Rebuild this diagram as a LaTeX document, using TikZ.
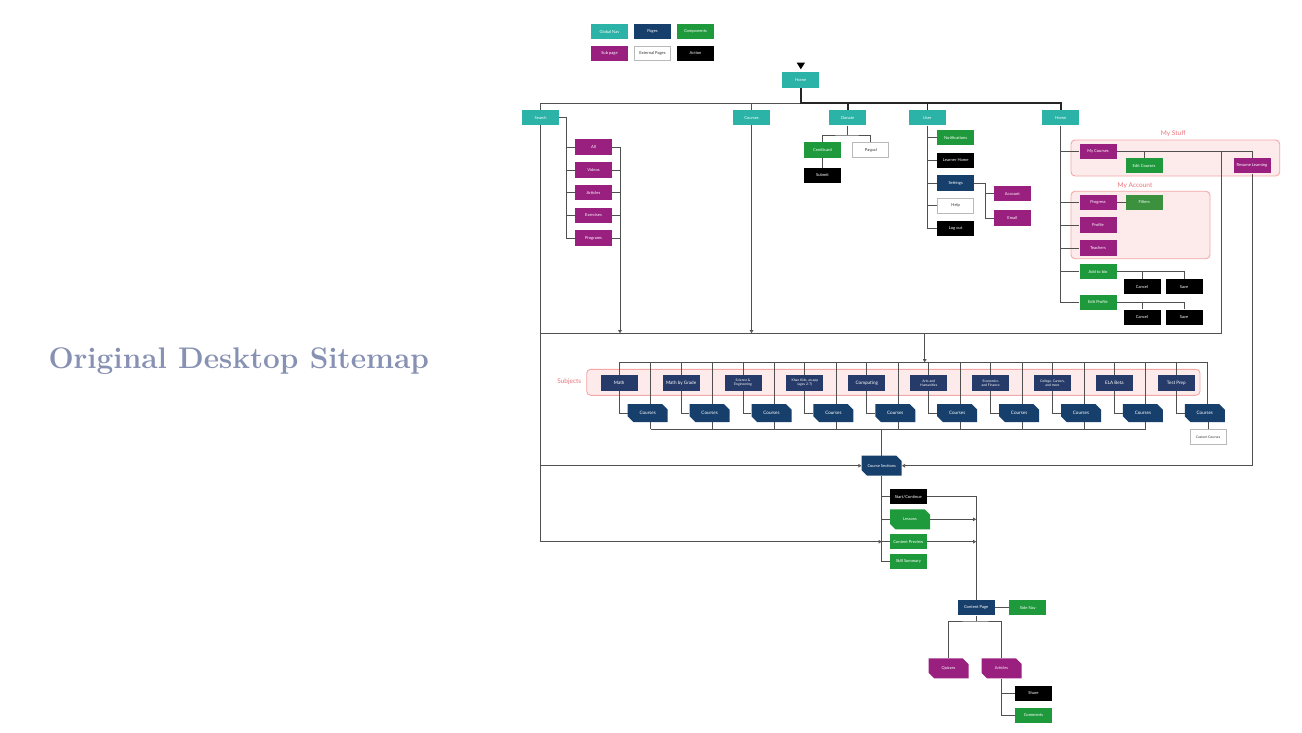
\documentclass[tikz,border=0pt]{standalone}
\usepackage{fontspec}
\newfontfamily\lato{Lato}
\usetikzlibrary{shapes.misc,arrows.meta,calc}
\pgfdeclarelayer{grplayer}
\pgfdeclarelayer{linelayer}
\pgfsetlayers{grplayer,linelayer,main}
\definecolor{gnavc}{HTML}{2BB3A7}
\definecolor{pagec}{HTML}{173F6B}
\definecolor{compc}{HTML}{1E9A3C}
\definecolor{subc}{HTML}{9A2080}
\definecolor{subjc}{HTML}{263B69}
\definecolor{filterc}{HTML}{3C913F}
\definecolor{grpfill}{HTML}{FDEBEB}
\definecolor{grpdraw}{HTML}{F4A7A7}
\definecolor{grptext}{HTML}{E8737B}
\definecolor{linec}{HTML}{505050}
\definecolor{titlec}{HTML}{8791B3}
\tikzset{
 bx/.style={rectangle, minimum width=37pt, minimum height=15.3pt, inner sep=0.5pt, text=white, font=\lato\fontsize{4.1}{4.7}\selectfont, align=center},
 gnav/.style={bx, fill=gnavc},
 pagebox/.style={bx, fill=pagec},
 compbox/.style={bx, fill=compc},
 subbox/.style={bx, fill=subc},
 extbox/.style={bx, fill=white, draw=gray!55, line width=0.8pt, text=black!80, minimum width=36pt, minimum height=14.5pt},
 actbox/.style={bx, fill=black},
 subj/.style={bx, fill=subjc, font=\lato\fontsize{4.6}{5}\selectfont},
 subjs/.style={subj, font=\lato\fontsize{3.4}{3.9}\selectfont},
 chamf/.style={chamfered rectangle, chamfered rectangle corners={north east,south west}, chamfered rectangle xsep=3.5pt, chamfered rectangle ysep=3.5pt, minimum width=40pt, minimum height=19.5pt, inner sep=0.5pt, text=white, font=\lato\fontsize{4.6}{5}\selectfont},
 crs/.style={chamf, fill=pagec, minimum height=18pt},
 conn/.style={draw=linec, line width=0.9pt},
 thickbar/.style={draw=black!85, line width=1.6pt},
 arr/.style={-{Triangle[open,length=3.2pt,width=3.6pt]}},
 grpbox/.style={fill=grpfill, draw=grpdraw, line width=0.9pt, rounded corners=4pt},
 grplabel/.style={text=grptext, font=\lato\fontsize{6.5}{7}\selectfont},
}
\begin{document}
\begin{tikzpicture}[x=1pt,y=-1pt]
\useasboundingbox (0,0) rectangle (1302,733);
% title
\node[anchor=base west, inner sep=0, text=titlec, font=\fontsize{29.8}{32}\selectfont\bfseries] (title) at (48.3,368.3) {Original Desktop Sitemap};
% legend
\node[gnav] (lgnav) at (609.5,31.7) {Global Nav};
\node[pagebox] (lpages) at (652.5,31.7) {Pages};
\node[compbox] (lcomp) at (695.5,31.7) {Components};
\node[subbox] (lsub) at (609.5,53.3) {Sub page};
\node[extbox] (lext) at (652.5,53.3) {External Pages};
\node[actbox] (lact) at (695.5,53.3) {Action};
% start marker
\fill[black] (796.7,62.7) -- (805,62.7) -- (800.8,69.3) -- cycle;
% top level
\node[gnav] (home) at (800.7,80) {Home};
\node[gnav] (search) at (540.7,117.7) {Search};
\node[gnav] (courses) at (751.5,117.7) {Courses};
\node[gnav] (donate) at (847.7,117.7) {Donate};
\node[gnav] (user) at (927.3,117.7) {User};
\node[gnav] (home2) at (1060.7,117.7) {Home};
% search
\node[subbox] (all) at (593.5,147) {All};
\node[subbox] (videos) at (593.5,170) {Videos};
\node[subbox] (articlesS) at (593.5,192.7) {Articles};
\node[subbox] (exercises) at (593.5,215.3) {Exercises};
\node[subbox] (programs) at (593.5,238) {Programs};
% donate
\node[compbox] (credit) at (822.5,150) {Creditcard};
\node[extbox] (paypal) at (870.8,150) {Paypal};
\node[actbox] (submit) at (822.5,175.5) {Submit};
% user
\node[compbox] (notif) at (955.7,137.7) {Notifications};
\node[actbox] (learner) at (955.7,160.3) {Learner Home};
\node[pagebox] (settings) at (955.7,183) {Settings};
\node[extbox] (help) at (955.7,205.7) {Help};
\node[actbox] (logout) at (955.7,228.3) {Log out};
\node[subbox] (account) at (1012.3,193.7) {Account};
\node[subbox] (email) at (1012.3,218) {Email};
% home right
\node[grplabel] (mystufflbl) at (1173.3,134) {My Stuff};
\node[grplabel] (myacclbl) at (1135,185.3) {My Account};
\node[subbox] (mycourses) at (1098,151.7) {My Courses};
\node[compbox] (editcourses) at (1144,165.7) {Edit Courses};
\node[subbox] (resume) at (1252,165.7) {Resume Learning};
\node[subbox] (progress) at (1098,202.3) {Progress};
\node[bx, fill=filterc] (filters) at (1144.3,202.3) {Filters};
\node[subbox] (profile) at (1098,225) {Profile};
\node[subbox] (teachers) at (1098,248) {Teachers};
\node[compbox] (addbio) at (1098,271.7) {Add to bio};
\node[actbox] (cancel1) at (1142,286.7) {Cancel};
\node[actbox] (save1) at (1184,286.7) {Save};
\node[compbox] (editprof) at (1098,302.3) {Edit Profile};
\node[actbox] (cancel2) at (1142,317.3) {Cancel};
\node[actbox] (save2) at (1184,317.3) {Save};
% subjects
\node[grplabel] (subjlbl) at (569.3,381.7) {Subjects};
\node[subj] (s1) at (619.2,383) {Math};
\node[subj] (s2) at (681.1,383) {Math by Grade};
\node[subjs] (s3) at (743.0,383) {Science \&\\Engineering};
\node[subjs] (s4) at (804.9,383) {Khan Kids, an app\\(ages 2-7)};
\node[subj] (s5) at (866.8,383) {Computing};
\node[subjs] (s6) at (928.7,383) {Arts and\\Humanities};
\node[subjs] (s7) at (990.6,383) {Economics\\and Finance};
\node[subjs] (s8) at (1052.5,383) {College, Careers,\\and more};
\node[subj] (s9) at (1114.4,383) {ELA Beta};
\node[subj] (s10) at (1176.3,383) {Test Prep};
\foreach \i/\x in {1/647.7,2/709.6,3/771.5,4/833.4,5/895.3,6/957.2,7/1019.1,8/1081.0,9/1142.9,10/1204.8}
  \node[crs] (c\i) at (\x,413) {Courses};
\node[extbox, font=\lato\fontsize{3.4}{3.9}\selectfont] (custom) at (1208,437) {Custom Courses};
% course sections
\node[chamf, fill=pagec, minimum height=20pt, font=\lato\fontsize{4}{4.6}\selectfont] (cs) at (881.7,465.7) {Course Sections};
\node[actbox] (start) at (908.3,496.7) {Start/Continue};
\node[chamf, fill=compc, minimum height=20pt, font=\lato\fontsize{4}{4.6}\selectfont] (lessons) at (910,519.3) {Lessons};
\node[compbox] (cprev) at (908.3,541.7) {Content Preview};
\node[compbox] (skill) at (908.3,561.3) {Skill Summary};
% content page
\node[pagebox] (cpage) at (976.2,607.8) {Content Page};
\node[compbox] (sidenav) at (1027.8,607.8) {Side Nav};
\node[chamf, fill=subc, minimum height=20pt, font=\lato\fontsize{4}{4.6}\selectfont] (quizzes) at (948.5,668.3) {Quizzes};
\node[chamf, fill=subc, minimum height=20pt, font=\lato\fontsize{4}{4.6}\selectfont] (articles) at (1001.5,668.3) {Articles};
\node[actbox] (share) at (1033.5,693.3) {Share};
\node[compbox] (comments) at (1033.5,715.3) {Comments};

\begin{pgfonlayer}{grplayer}
\fill[white] (0,0) rectangle (1302,733);
\draw[grpbox] (1071,140) rectangle (1279.7,176);
\draw[grpbox] (1071,191.3) rectangle (1210,258.7);
\draw[grpbox] (586.7,369.3) rectangle (1200,395.3);
\end{pgfonlayer}

\begin{pgfonlayer}{linelayer}
\coordinate (barM) at (800.7,103.3);
\coordinate (barL) at (540.7,103.3);
\coordinate (barR) at (1060.7,103.3);
\coordinate (bigL) at (540.7,333.3);
\coordinate (bigR) at (1221.7,333.3);
% top bar
\draw[conn] (barM) -- (barL) -- (bigL);
\draw[thickbar] (home.south) -- (barM) -- (barR) -- (home2.north);
\draw[thickbar] (donate.north) -- (donate.north |- barM);
\draw[thickbar] (user.north) -- (user.north |- barM);
\draw[conn,arr] (courses.north |- barL) -- (courses.north |- bigL);
% search
\coordinate (sJ) at (566,117.7);
\draw[conn] (search.east) -- (sJ) |- (programs.west);
\foreach \n in {all,videos,articlesS,exercises} \draw[conn] (sJ |- \n.west) -- (\n.west);
\coordinate (sR) at (620,147);
\draw[conn,arr] (all.east) -- (sR) -- (sR |- bigL);
\foreach \n in {videos,articlesS,exercises,programs} \draw[conn] (\n.east) -- (\n.east -| sR);
% donate
\coordinate (dJ) at (847.7,135);
\draw[conn] (donate.south) -- (dJ);
\draw[conn] (credit.north) |- (dJ) -| (paypal.north);
\draw[conn] (credit) -- (submit);
% user
\draw[conn] (user.south) |- (logout.west);
\foreach \n in {notif,learner,settings,help} \draw[conn] (user.south |- \n.west) -- (\n.west);
\coordinate (stJ) at (985,183);
\draw[conn] (settings.east) -- (stJ) |- (email.west);
\draw[conn] (stJ |- account.west) -- (account.west);
% home right
\draw[conn] (home2.south) |- (editprof.west);
\foreach \n in {mycourses,progress,profile,teachers,addbio} \draw[conn] (home2.south |- \n.west) -- (\n.west);
\draw[conn] (mycourses.east) -| (resume.north);
\draw[conn] (editcourses.north) |- (mycourses.east);
\draw[conn] (bigL) -- (bigR) |- (mycourses.east);
\draw[conn] (progress) -- (filters);
\draw[conn] (addbio.east) -| (save1.north);
\draw[conn] (cancel1.north) |- (addbio.east);
\draw[conn] (editprof.east) -| (save2.north);
\draw[conn] (cancel2.north) |- (editprof.east);
% subjects
\coordinate (subjtop) at (619.2,362.3);
\coordinate (subjbot) at (619.2,429);
\coordinate (subjIn) at (924.7,362.3);
\draw[conn,arr] (subjIn |- bigL) -- (subjIn);
\foreach \i in {1,...,10} {
  \coordinate (ct\i) at ($(c\i.north)+(3,0)$);
  \draw[conn] (s\i.north) -- (s\i.north |- subjtop);
  \draw[conn] (ct\i) -- (ct\i |- subjtop);
  \draw[conn] (s\i.south) |- (c\i.west);
}
\draw[conn] (s1.north |- subjtop) -- (ct10 |- subjtop);
\foreach \i in {1,...,9} {
  \coordinate (cb\i) at ($(c\i.south)+(3,0)$);
  \draw[conn] (cb\i) -- (cb\i |- subjbot);
}
\draw[conn] (cb1 |- subjbot) -- (cb9 |- subjbot);
\draw[conn] (c10.south -| custom.north) -- (custom.north);
% course sections
\draw[conn] (cs.north |- subjbot) -- (cs.north);
\draw[conn,arr] (bigL) |- (cs.west);
\draw[conn,arr] (resume.south) |- (cs.east);
\draw[conn] (cs.south) |- (skill.west);
\foreach \n in {start,lessons,cprev} \draw[conn] (cs.south |- \n.west) -- (\n.west);
\draw[conn,arr] (bigL) |- (cs.south |- cprev.west);
\draw[conn] (start.east) -| (cpage.north);
\draw[conn,arr] (lessons.east) -- (lessons.east -| cpage.north);
\draw[conn,arr] (cprev.east) -- (cprev.east -| cpage.north);
% content page
\draw[conn] (cpage) -- (sidenav);
\coordinate (cpB) at (976.2,621);
\draw[conn] (cpage.south) -- (cpB);
\draw[conn] (quizzes.north) |- (cpB) -| (articles.north);
\draw[conn] (articles.south) |- (comments.west);
\draw[conn] (articles.south |- share.west) -- (share.west);
\end{pgfonlayer}
\end{tikzpicture}
\end{document}
